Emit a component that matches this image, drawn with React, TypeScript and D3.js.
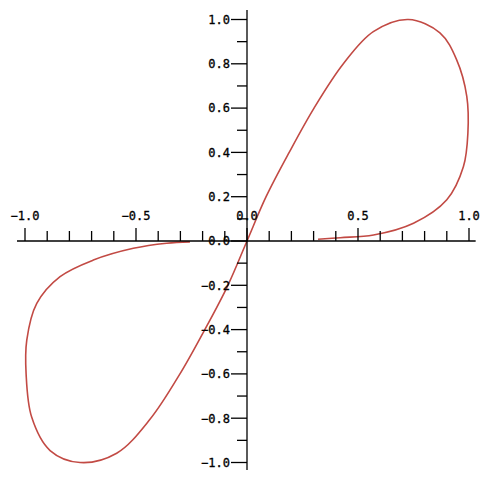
import React from "react";
import * as d3 from "d3";

// Curve samples (data units), traced in drawing order
const curveX = [0.32, 0.42, 0.57, 0.75, 0.9, 0.975, 0.995, 0.99, 0.944, 0.869, 0.727, 0.569, 0.434, 0.302, 0.19, 0.086, 0, -0.086, -0.19, -0.302, -0.437, -0.587, -0.752, -0.887, -0.97, -0.995, -0.992, -0.947, -0.842, -0.692, -0.512, -0.362, -0.257];
const curveY = [0.008, 0.015, 0.027, 0.08, 0.186, 0.336, 0.487, 0.653, 0.819, 0.94, 1.0, 0.945, 0.8, 0.6, 0.4, 0.2, 0, -0.2, -0.4, -0.6, -0.805, -0.958, -1.0, -0.946, -0.795, -0.6, -0.448, -0.282, -0.161, -0.086, -0.033, -0.01, -0.004];

const xMajorTicks = [-1.0, -0.5, 0.0, 0.5, 1.0];
const xMinorTicks = [-0.9, -0.8, -0.7, -0.6, -0.4, -0.3, -0.2, -0.1, 0.1, 0.2, 0.3, 0.4, 0.6, 0.7, 0.8, 0.9];
const yMajorTicks = [-1.0, -0.8, -0.6, -0.4, -0.2, 0.0, 0.2, 0.4, 0.6, 0.8, 1.0];
const yMinorTicks = [-0.9, -0.7, -0.5, -0.3, -0.1, 0.1, 0.3, 0.5, 0.7, 0.9];

const W = 480;
const H = 478;

export default function App() {
  const x = d3.scaleLinear().domain([-1, 1]).range([25, 469]);
  const y = d3.scaleLinear().domain([-1, 1]).range([462.5, 19.5]);

  const pts: [number, number][] = curveX.map((v, i) => [v, curveY[i]]);
  const line = d3
    .line<[number, number]>()
    .x((d) => x(d[0]))
    .y((d) => y(d[1]))
    .curve(d3.curveCatmullRom.alpha(0.5));

  const x0 = x(0);
  const y0 = y(0);
  const font = "'DejaVu Sans Mono', monospace";
  const fmt = d3.format(".1f");

  return (
    <svg
      width={W}
      height={H}
      style={{ position: "absolute", left: 0, top: 0, background: "#fff" }}
    >
      {/* curve */}
      <path d={line(pts) ?? ""} fill="none" stroke="#c24a44" strokeWidth={1.6} />

      {/* x axis */}
      <line x1={x(-1.036)} x2={x(1.03)} y1={y0} y2={y0} stroke="#000" strokeWidth={1.3} />
      {xMinorTicks.map((t) => (
        <line key={"xm" + t} x1={x(t)} x2={x(t)} y1={y0} y2={y0 - 10} stroke="#000" strokeWidth={1.3} />
      ))}
      {xMajorTicks.map((t) => (
        <g key={"xM" + t}>
          <line x1={x(t)} x2={x(t)} y1={y0} y2={y0 - 13} stroke="#000" strokeWidth={1.3} />
          <text x={x(t)} y={y0 - 21} textAnchor="middle" fontFamily={font} fontSize={12} fill="#000" stroke="#000" strokeWidth={0.3}>
            {fmt(t)}
          </text>
        </g>
      ))}

      {/* y axis */}
      <line x1={x0} x2={x0} y1={y(1.043)} y2={y(-1.034)} stroke="#000" strokeWidth={1.3} />
      {yMinorTicks.map((t) => (
        <line key={"ym" + t} x1={x0 - 10} x2={x0} y1={y(t)} y2={y(t)} stroke="#000" strokeWidth={1.3} />
      ))}
      {yMajorTicks.map((t) => (
        <g key={"yM" + t}>
          <line x1={x0 - 16} x2={x0} y1={y(t)} y2={y(t)} stroke="#000" strokeWidth={1.3} />
          <text x={x0 - 17} y={y(t)} dy="0.36em" textAnchor="end" fontFamily={font} fontSize={12} fill="#000" stroke="#000" strokeWidth={0.3}>
            {fmt(t)}
          </text>
        </g>
      ))}
    </svg>
  );
}
